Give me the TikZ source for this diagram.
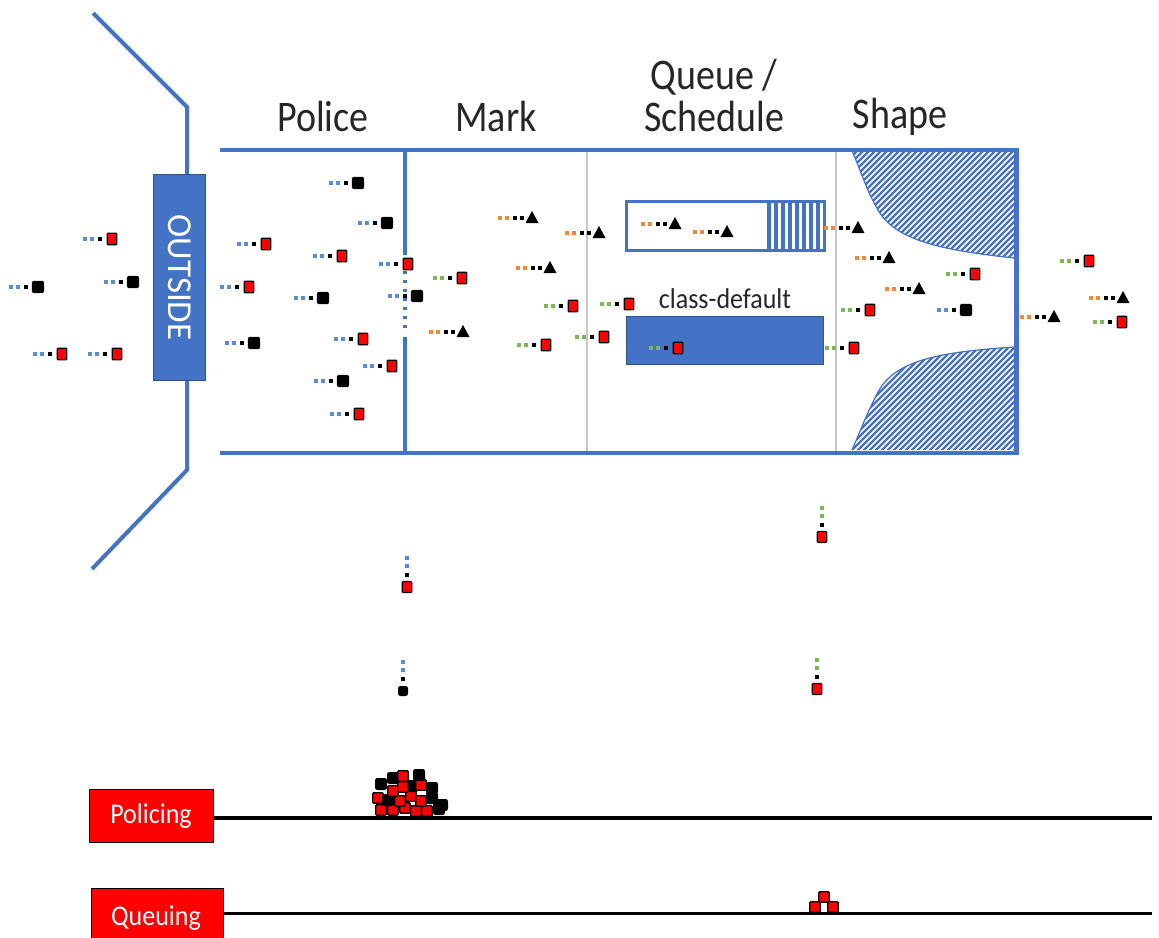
\documentclass[tikz,border=0pt]{standalone}
\usepackage{fontspec}
\setmainfont{Carlito}
\usepackage{graphicx}
\definecolor{bl}{HTML}{4472C4}
\definecolor{blbd}{HTML}{2F528F}
\definecolor{pb}{HTML}{5B8BDB}
\definecolor{po}{HTML}{F0883E}
\definecolor{pg}{HTML}{7CB956}
\definecolor{gr}{HTML}{C6C6C6}
\definecolor{txt}{HTML}{262626}
\tikzset{
  wall/.style={draw=bl, line width=4pt},
  redsq/.style={fill=red, draw=black, line width=1.3pt, rounded corners=1pt},
  blksq/.style={fill=black, draw=black, line width=1pt, rounded corners=2pt},
  head/.style={font=\fontsize{38}{40}\selectfont, text=txt, anchor=base, inner sep=0pt},
  lbl/.style={fill=red, draw=black, line width=0.8pt, text=white, font=\fontsize{26}{28}\selectfont, inner sep=0pt, anchor=north west},
  hatchline/.style={draw=bl, line width=2.2pt},
}
\newcommand{\dotsq}[3]{\fill[#3] (#1-1.6,#2-1.6) rectangle (#1+1.6,#2+1.6);}
\newcommand{\pktD}[3]{\dotsq{#1-27}{#2}{#3}\dotsq{#1-20}{#2}{#3}\dotsq{#1-12}{#2}{black}}
\newcommand{\pktR}[3]{\pktD{#1}{#2}{#3}\draw[redsq] (#1-4.8,#2-5.8) rectangle (#1+4.8,#2+5.8);}
\newcommand{\pktK}[3]{\pktD{#1}{#2}{#3}\draw[blksq] (#1-5.7,#2-5.7) rectangle (#1+5.7,#2+5.7);}
\newcommand{\pktT}[3]{\dotsq{#1-32}{#2}{#3}\dotsq{#1-25}{#2}{#3}\dotsq{#1-17}{#2}{black}\dotsq{#1-10}{#2}{black}\fill[black] (#1-6.5,#2+5) -- (#1,#2-7) -- (#1+6.5,#2+5) -- cycle;}
\newcommand{\vpktD}[3]{\dotsq{#1}{#2-29}{#3}\dotsq{#1}{#2-21}{#3}\dotsq{#1}{#2-12}{black}}
\newcommand{\vpktR}[3]{\vpktD{#1}{#2}{#3}\draw[redsq] (#1-4.8,#2-5.5) rectangle (#1+4.8,#2+5.5);}
\newcommand{\vpktK}[3]{\vpktD{#1}{#2}{#3}\draw[blksq] (#1-4.5,#2-4.5) rectangle (#1+4.5,#2+4.5);}
\newcommand{\pileR}[2]{\draw[redsq] (#1-5.2,#2-5.2) rectangle (#1+5.2,#2+5.2);}
\newcommand{\pileK}[2]{\draw[blksq] (#1-5.5,#2-5.5) rectangle (#1+5.5,#2+5.5);}
\begin{document}
\begin{tikzpicture}[x=1pt,y=-1pt]
\useasboundingbox (0,0) rectangle (1159,937);
\clip (0,0) rectangle (1159,937);
% gray dividers
\draw[gr, line width=1.5pt] (587,150) -- (587,453);
\draw[gr, line width=1.5pt] (836,150) -- (836,453);
% hatched shaper walls
\begin{scope}
\clip (852,151) -- (1014,151) -- (1014,258) .. controls (940,250) and (895,240) .. (878,210) .. controls (866,190) and (860,168) .. (852,151) -- cycle;
\foreach \i in {-420,-414,...,220} \draw[hatchline] (850+\i,470) -- (850+\i+340,130);
\end{scope}
\draw[bl, line width=1.2pt] (1014,258) .. controls (940,250) and (895,240) .. (878,210) .. controls (866,190) and (860,168) .. (852,151);
\begin{scope}
\clip (1014,347) .. controls (940,352) and (895,360) .. (878,392) .. controls (866,415) and (860,432) .. (852,450) -- (1014,450) -- cycle;
\foreach \i in {-420,-414,...,220} \draw[hatchline] (850+\i,470) -- (850+\i+340,130);
\end{scope}
\draw[bl, line width=1.2pt] (1014,347) .. controls (940,352) and (895,360) .. (878,392) .. controls (866,415) and (860,432) .. (852,450);
% walls
\draw[wall] (220,150) -- (1016,150);
\draw[wall] (220,453) -- (1016,453);
\draw[draw=bl, line width=5pt] (1016,148) -- (1016,455);
\draw[wall] (93,13) -- (187,107) -- (187,176);
\draw[wall] (187,378) -- (187,470) -- (92,569);
% police divider
\draw[bl, line width=4.5pt] (405,150) -- (405,255);
\draw[bl, line width=4.5pt] (405,337) -- (405,453);
\draw[bl, line width=3.5pt, dash pattern=on 3pt off 6pt] (405,262) -- (405,334);
% outside box
\node[fill=bl, draw=blbd, line width=1pt, minimum width=52pt, minimum height=206pt, inner sep=0pt, anchor=north west] (outside) at (153,174) {};
\node[text=white, rotate=-90, font=\fontsize{35}{37}\selectfont] (outsidetxt) at (outside.center) {OUTSIDE};
% headings
\node[head] (police) at (323,131) {\scalebox{1}[1.15]{Police}};
\node[head] (mark) at (496,131) {\scalebox{1}[1.15]{Mark}};
\node[head] (queue) at (714,89) {\scalebox{1}[1.15]{Queue /}};
\node[head] (sched) at (714,131) {\scalebox{1}[1.15]{Schedule}};
\node[head] (shape) at (900,128) {\scalebox{1}[1.15]{Shape}};
% queue boxes
\node[draw=bl, line width=2pt, fill=white, minimum width=197pt, minimum height=48pt, inner sep=0pt, anchor=north west] (qbox) at (626,201) {};
\begin{scope}
\clip (767,201) rectangle (823,249);
\foreach \x in {769,776,...,822} \draw[bl, line width=3.5pt] (\x,199) -- (\x,251);
\end{scope}
\draw[bl, line width=2pt] (qbox.north west) rectangle (qbox.south east);
\node[font=\fontsize{26}{28}\selectfont, text=txt, anchor=base, inner sep=0pt] (cd) at (725,308) {\scalebox{1}[1.1]{class-default}};
\node[fill=bl, draw=blbd, line width=1pt, minimum width=197pt, minimum height=48pt, inner sep=0pt, anchor=north west] (dbox) at (626,316) {};
% packets outside
\pktR{112}{239}{pb}
\pktK{38}{287}{pb}
\pktK{133}{282}{pb}
\pktR{62}{354}{pb}
\pktR{117}{354}{pb}
% police
\pktK{358}{183}{pb}
\pktK{387}{223}{pb}
\pktR{266}{244}{pb}
\pktR{342}{256}{pb}
\pktR{408}{264}{pb}
\pktR{249}{287}{pb}
\pktK{323}{298}{pb}
\pktK{417}{296}{pb}
\pktK{254}{343}{pb}
\pktR{363}{339}{pb}
\pktR{392}{366}{pb}
\pktK{343}{381}{pb}
\pktR{359}{414}{pb}
% mark
\pktR{462}{278}{pg}
\pktT{532}{218}{po}
\pktT{599}{233}{po}
\pktT{550}{268}{po}
\pktR{573}{306}{pg}
\pktT{463}{332}{po}
\pktR{546}{345}{pg}
\pktR{604}{337}{pg}
\pktR{629}{304}{pg}
% queue
\pktT{675}{224}{po}
\pktT{727}{232}{po}
\pktR{678}{348}{pg}
% shape
\pktT{858}{228}{po}
\pktT{889}{258}{po}
\pktT{919}{289}{po}
\pktR{870}{310}{pg}
\pktR{854}{348}{pg}
\pktR{975}{274}{pg}
\pktK{966}{310}{pb}
\pktT{1054}{317}{po}
\pktR{1089}{261}{pg}
\pktT{1123}{298}{po}
\pktR{1122}{322}{pg}
% dropped / delayed packets
\vpktR{407}{587}{pb}
\vpktK{403}{691}{pb}
\vpktR{822}{537}{pg}
\vpktR{817}{689}{pg}
% bottom labels and lines
\node[lbl, minimum width=124pt, minimum height=53pt] (policing) at (89,789) {};
\node[text=white, font=\fontsize{26}{28}\selectfont, anchor=base, inner sep=0pt] (policingtxt) at (151,823) {\scalebox{1}[1.1]{Policing}};
\coordinate (pl1) at (1152,818);
\draw[black, line width=4pt] (policing.east |- pl1) -- (pl1);
\node[lbl, minimum width=132pt, minimum height=60pt] (queuing) at (91,888) {};
\node[text=white, font=\fontsize{26}{28}\selectfont, anchor=base, inner sep=0pt] (queuingtxt) at (156,925) {\scalebox{1}[1.1]{Queuing}};
\coordinate (ql1) at (1152,913);
\draw[black, line width=3pt] (queuing.east |- ql1) -- (ql1);
% policing pile
\pileR{381}{810}\pileR{393}{810}\pileR{405}{808}\pileR{416}{811}\pileR{427}{811}\pileK{439}{809}
\pileK{442}{805}\pileK{432}{798}\pileR{378}{798}\pileK{388}{800}\pileR{400}{801}\pileR{411}{796}\pileR{421}{801}
\pileK{381}{784}\pileK{412}{786}\pileK{432}{788}\pileR{393}{791}\pileR{403}{787}\pileR{421}{785}
\pileK{393}{778}\pileR{403}{776}\pileK{419}{775}
% queuing stack
\pileR{815}{907}\pileR{833}{907}\pileR{824}{897}
\end{tikzpicture}
\end{document}
